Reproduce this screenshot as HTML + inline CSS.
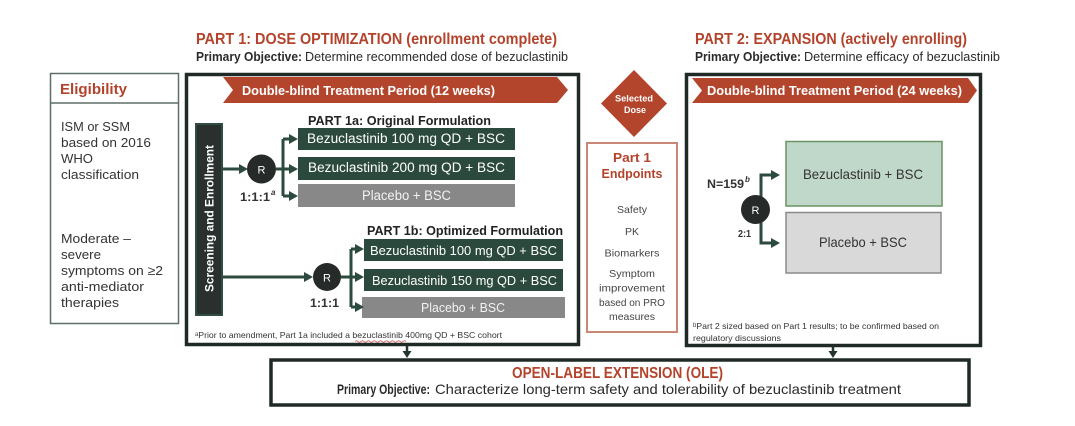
<!DOCTYPE html>
<html>
<head>
<meta charset="utf-8">
<style>
  html,body{margin:0;padding:0;background:#fff;}
  svg{display:block;}
  text{font-family:"Liberation Sans",sans-serif;}
</style>
</head>
<body>
<svg width="1075" height="426" viewBox="0 0 1075 426" xmlns="http://www.w3.org/2000/svg">
  <rect width="1075" height="426" fill="#ffffff"/>

  <!-- Titles -->
  <text x="196" y="44" font-size="16" font-weight="bold" fill="#b3432b" textLength="361" lengthAdjust="spacingAndGlyphs">PART 1: DOSE OPTIMIZATION (enrollment complete)</text>
  <text x="196" y="61" font-size="13" font-weight="bold" fill="#2a2a2a" textLength="106" lengthAdjust="spacingAndGlyphs">Primary Objective:</text>
  <text x="305" y="61" font-size="13" fill="#2a2a2a" textLength="263" lengthAdjust="spacingAndGlyphs">Determine recommended dose of bezuclastinib</text>

  <text x="695" y="44" font-size="16" font-weight="bold" fill="#b3432b" textLength="272" lengthAdjust="spacingAndGlyphs">PART 2: EXPANSION (actively enrolling)</text>
  <text x="695" y="61" font-size="13" font-weight="bold" fill="#2a2a2a" textLength="106" lengthAdjust="spacingAndGlyphs">Primary Objective:</text>
  <text x="804" y="61" font-size="13" fill="#2a2a2a" textLength="196" lengthAdjust="spacingAndGlyphs">Determine efficacy of bezuclastinib</text>

  <!-- Eligibility -->
  <rect x="50.5" y="73.5" width="128" height="250" fill="#fff" stroke="#5e6e69" stroke-width="1.5"/>
  <line x1="50.5" y1="103" x2="178.5" y2="103" stroke="#5e6e69" stroke-width="1.5"/>
  <text x="60" y="94" font-size="15" font-weight="bold" fill="#b3432b" textLength="67" lengthAdjust="spacingAndGlyphs">Eligibility</text>
  <g font-size="13" fill="#333">
    <text x="61" y="131" textLength="69" lengthAdjust="spacingAndGlyphs">ISM or SSM</text>
    <text x="61" y="147" textLength="90" lengthAdjust="spacingAndGlyphs">based on 2016</text>
    <text x="61" y="163" textLength="32" lengthAdjust="spacingAndGlyphs">WHO</text>
    <text x="61" y="179" textLength="78" lengthAdjust="spacingAndGlyphs">classification</text>
    <text x="61" y="243" textLength="70" lengthAdjust="spacingAndGlyphs">Moderate –</text>
    <text x="61" y="259" textLength="40" lengthAdjust="spacingAndGlyphs">severe</text>
    <text x="61" y="275" textLength="102" lengthAdjust="spacingAndGlyphs">symptoms on ≥2</text>
    <text x="61" y="291" textLength="83" lengthAdjust="spacingAndGlyphs">anti-mediator</text>
    <text x="61" y="307" textLength="58" lengthAdjust="spacingAndGlyphs">therapies</text>
  </g>

  <!-- Part 1 box -->
  <rect x="186.5" y="74.5" width="392" height="270" fill="#fff" stroke="#1f2a26" stroke-width="3.5"/>
  <polygon points="223,77 557,77 568,90 557,103 223,103 233,90" fill="#b3452c"/>
  <text x="242" y="95" font-size="12.5" font-weight="bold" fill="#fff" textLength="253" lengthAdjust="spacingAndGlyphs">Double-blind Treatment Period  (12 weeks)</text>

  <!-- Screening column -->
  <rect x="196" y="124" width="26" height="191" fill="#2a302e" stroke="#2f4d40" stroke-width="2"/>
  <text transform="translate(213.5,292) rotate(-90)" x="0" y="0" font-size="12" font-weight="bold" fill="#fff" textLength="147" lengthAdjust="spacingAndGlyphs">Screening and Enrollment</text>

  <!-- Part 1a -->
  <text x="308" y="125" font-size="12.5" font-weight="bold" fill="#222" textLength="183" lengthAdjust="spacingAndGlyphs">PART 1a: Original Formulation</text>
  <rect x="298" y="128" width="217" height="22" fill="#2b4a3d"/>
  <rect x="298" y="157" width="217" height="23" fill="#2b4a3d"/>
  <rect x="298" y="184" width="217" height="23" fill="#888888"/>
  <text x="307" y="143" font-size="13.5" fill="#fff" textLength="198" lengthAdjust="spacingAndGlyphs">Bezuclastinib  100 mg QD + BSC</text>
  <text x="308" y="172" font-size="13.5" fill="#fff" textLength="197" lengthAdjust="spacingAndGlyphs">Bezuclastinib 200 mg QD + BSC</text>
  <text x="362" y="200" font-size="13.5" fill="#f2f2f2" textLength="89" lengthAdjust="spacingAndGlyphs">Placebo + BSC</text>

  <g stroke="#2c4a3e" stroke-width="3" fill="none">
    <line x1="223" y1="169" x2="240" y2="169"/>
    <line x1="276" y1="169" x2="284" y2="169"/>
    <line x1="283" y1="139" x2="283" y2="196"/>
    <line x1="283" y1="139" x2="290" y2="139"/>
    <line x1="283" y1="196" x2="290" y2="196"/>
    <line x1="284" y1="169" x2="290" y2="169"/>
  </g>
  <g fill="#2c4a3e">
    <polygon points="239,164 248,169 239,174"/>
    <polygon points="289,134 298,139 289,144"/>
    <polygon points="289,164 298,169 289,174"/>
    <polygon points="289,191 298,196 289,201"/>
  </g>
  <circle cx="261.5" cy="169" r="14.5" fill="#262a28"/>
  <text x="261.5" y="173.5" font-size="11" fill="#fff" text-anchor="middle">R</text>
  <text x="240" y="201" font-size="12" font-weight="bold" fill="#333" textLength="30" lengthAdjust="spacingAndGlyphs">1:1:1</text>
  <text x="271" y="195" font-size="8" font-style="italic" font-weight="bold" fill="#333">a</text>

  <!-- Part 1b -->
  <text x="367" y="235" font-size="12.5" font-weight="bold" fill="#222" textLength="196" lengthAdjust="spacingAndGlyphs">PART 1b: Optimized Formulation</text>
  <rect x="364" y="239" width="199" height="22" fill="#2b4a3d"/>
  <rect x="364" y="269" width="199" height="22" fill="#2b4a3d"/>
  <rect x="362" y="297" width="203" height="21" fill="#888888"/>
  <text x="370" y="255" font-size="13" fill="#fff" textLength="187" lengthAdjust="spacingAndGlyphs">Bezuclastinib  100 mg QD + BSC</text>
  <text x="372" y="285" font-size="13" fill="#fff" textLength="185" lengthAdjust="spacingAndGlyphs">Bezuclastinib 150 mg QD + BSC</text>
  <text x="421" y="312" font-size="13" fill="#f2f2f2" textLength="84" lengthAdjust="spacingAndGlyphs">Placebo + BSC</text>

  <g stroke="#2c4a3e" stroke-width="3" fill="none">
    <line x1="223" y1="277" x2="305" y2="277"/>
    <line x1="341" y1="277" x2="352" y2="277"/>
    <line x1="351" y1="249" x2="351" y2="307"/>
    <line x1="351" y1="249" x2="356" y2="249"/>
    <line x1="351" y1="307" x2="356" y2="307"/>
    <line x1="352" y1="277" x2="356" y2="277"/>
  </g>
  <g fill="#2c4a3e">
    <polygon points="304,272 313,277 304,282"/>
    <polygon points="355,244 364,249 355,254"/>
    <polygon points="355,272 364,277 355,282"/>
    <polygon points="355,302 364,307 355,312"/>
  </g>
  <circle cx="327" cy="277" r="14" fill="#262a28"/>
  <text x="327" y="281.5" font-size="11" fill="#fff" text-anchor="middle">R</text>
  <text x="310" y="307" font-size="12" font-weight="bold" fill="#333" textLength="29" lengthAdjust="spacingAndGlyphs">1:1:1</text>

  <text x="195" y="338" font-size="8.5" fill="#333" textLength="307" lengthAdjust="spacingAndGlyphs">ᵃPrior to amendment, Part 1a included a bezuclastinib 400mg QD + BSC cohort</text>
  <path d="M355,341.5 q1.5,-1.5 3,0 t3,0 t3,0 t3,0 t3,0 t3,0 t3,0 t3,0 t3,0 t3,0 t3,0 t3,0 t3,0 t3,0 t3,0 t3,0 t3,0" stroke="#d04040" stroke-width="0.8" fill="none"/>

  <!-- Down arrows -->
  <line x1="407" y1="346" x2="407" y2="352" stroke="#24352f" stroke-width="2.5"/>
  <polygon points="402.5,351 411.5,351 407,358" fill="#24352f"/>
  <line x1="833" y1="347" x2="833" y2="352" stroke="#24352f" stroke-width="2.5"/>
  <polygon points="828.5,351 837.5,351 833,358" fill="#24352f"/>

  <!-- Selected dose diamond -->
  <polygon points="634,70 667,103.5 634,137 601,103.5" fill="#b3452c"/>
  <text x="634" y="101.5" font-size="9.5" font-weight="bold" fill="#fff" text-anchor="middle" textLength="38" lengthAdjust="spacingAndGlyphs">Selected</text>
  <text x="635" y="113" font-size="9.5" font-weight="bold" fill="#fff" text-anchor="middle" textLength="22" lengthAdjust="spacingAndGlyphs">Dose</text>

  <!-- Part 1 Endpoints -->
  <rect x="587" y="143" width="90" height="189" fill="#fff" stroke="#c98877" stroke-width="2"/>
  <text x="632" y="162" font-size="13" font-weight="bold" fill="#b3432b" text-anchor="middle" textLength="38" lengthAdjust="spacingAndGlyphs">Part 1</text>
  <text x="632" y="178" font-size="13" font-weight="bold" fill="#b3432b" text-anchor="middle" textLength="61" lengthAdjust="spacingAndGlyphs">Endpoints</text>
  <g font-size="10.5" fill="#444" text-anchor="middle">
    <text x="632" y="213" textLength="30" lengthAdjust="spacingAndGlyphs">Safety</text>
    <text x="632" y="235">PK</text>
    <text x="632" y="256.5" textLength="55" lengthAdjust="spacingAndGlyphs">Biomarkers</text>
    <text x="632" y="277" textLength="46" lengthAdjust="spacingAndGlyphs">Symptom</text>
    <text x="632" y="291.5" textLength="66" lengthAdjust="spacingAndGlyphs">improvement</text>
    <text x="632" y="306" textLength="66" lengthAdjust="spacingAndGlyphs">based on PRO</text>
    <text x="632" y="320" textLength="46" lengthAdjust="spacingAndGlyphs">measures</text>
  </g>

  <!-- Part 2 box -->
  <rect x="686.5" y="74.5" width="294" height="271" fill="#fff" stroke="#1f2a26" stroke-width="3.5"/>
  <polygon points="692,78 968,78 977,90.5 968,103 692,103 702,90.5" fill="#b3452c"/>
  <text x="707" y="95" font-size="12.5" font-weight="bold" fill="#fff" textLength="255" lengthAdjust="spacingAndGlyphs">Double-blind Treatment Period  (24 weeks)</text>

  <rect x="786" y="141.5" width="156" height="64.5" fill="#bfd8c9" stroke="#6b9463" stroke-width="1.5"/>
  <rect x="786" y="212.5" width="155" height="60.5" fill="#d9d9d9" stroke="#8a8a8a" stroke-width="1.5"/>
  <text x="803" y="179" font-size="14" fill="#333" textLength="120" lengthAdjust="spacingAndGlyphs">Bezuclastinib + BSC</text>
  <text x="819" y="247" font-size="14" fill="#333" textLength="88" lengthAdjust="spacingAndGlyphs">Placebo + BSC</text>

  <g stroke="#2c4a3e" stroke-width="3" fill="none">
    <polyline points="761,200 761,175 773,175"/>
    <polyline points="761,220 761,243 773,243"/>
  </g>
  <g fill="#2c4a3e">
    <polygon points="771,170 780,175 771,180"/>
    <polygon points="771,238 780,243 771,248"/>
  </g>
  <circle cx="755.5" cy="209.5" r="14.5" fill="#262a28"/>
  <text x="755.5" y="214" font-size="11" fill="#fff" text-anchor="middle">R</text>
  <text x="707" y="188" font-size="12" font-weight="bold" fill="#333" textLength="37" lengthAdjust="spacingAndGlyphs">N=159</text>
  <text x="745" y="182" font-size="8" font-style="italic" font-weight="bold" fill="#333">b</text>
  <text x="738" y="237" font-size="10" font-weight="bold" fill="#333" textLength="13" lengthAdjust="spacingAndGlyphs">2:1</text>

  <text x="693" y="329" font-size="8.5" fill="#333" textLength="246" lengthAdjust="spacingAndGlyphs">ᵇPart 2 sized based on Part 1 results; to be confirmed based on</text>
  <text x="693" y="341" font-size="8.5" fill="#333" textLength="88" lengthAdjust="spacingAndGlyphs">regulatory discussions</text>

  <!-- OLE -->
  <rect x="271" y="360" width="698" height="45" fill="#fff" stroke="#1f2a26" stroke-width="3.5"/>
  <text x="512" y="378" font-size="16" font-weight="bold" fill="#b3432b" textLength="211" lengthAdjust="spacingAndGlyphs">OPEN-LABEL EXTENSION (OLE)</text>
  <text x="337" y="394" font-size="14" font-weight="bold" fill="#2a2a2a" textLength="93" lengthAdjust="spacingAndGlyphs">Primary Objective:</text>
  <text x="435" y="394" font-size="14" fill="#2a2a2a" textLength="466" lengthAdjust="spacingAndGlyphs">Characterize long-term safety and tolerability of bezuclastinib treatment</text>
</svg>
</body>
</html>
